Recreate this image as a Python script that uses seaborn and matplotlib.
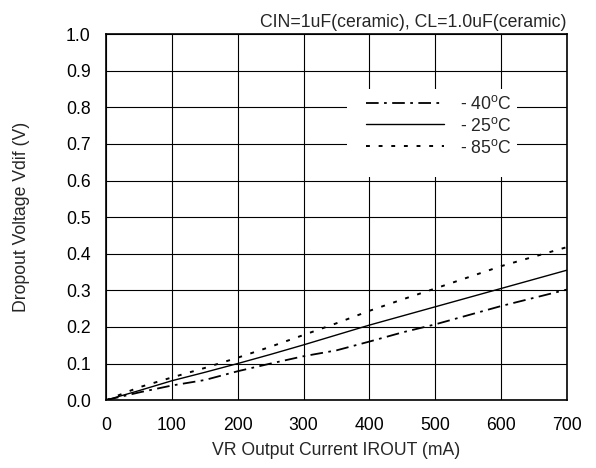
import matplotlib
matplotlib.use("Agg")
import matplotlib.pyplot as plt
import seaborn as sns
import pandas as pd
from matplotlib.patches import Rectangle

# values
current_ma = [0, 50, 100, 150, 200, 250, 300, 350, 400, 450, 500, 600, 700]
vdif_m40 = [0, 0.021, 0.040, 0.055, 0.079, 0.100, 0.120, 0.136, 0.160, 0.185, 0.207, 0.257, 0.302]
vdif_25 = [0, 0.026, 0.053, 0.076, 0.100, 0.125, 0.151, 0.178, 0.205, 0.230, 0.255, 0.305, 0.355]
vdif_85 = [0, 0.035, 0.062, 0.088, 0.116, 0.146, 0.178, 0.210, 0.244, 0.275, 0.305, 0.366, 0.418]
labels = ["- 40$^{\\rm o}$C", "- 25$^{\\rm o}$C", "- 85$^{\\rm o}$C"]
x_ticks = [0, 100, 200, 300, 400, 500, 600, 700]
y_ticks = [0.0, 0.1, 0.2, 0.3, 0.4, 0.5, 0.6, 0.7, 0.8, 0.9, 1.0]

FS = 12.7

sns.set_style("white")
plt.rcParams["font.family"] = ["Liberation Sans", "DejaVu Sans"]
plt.rcParams["mathtext.fontset"] = "custom"
plt.rcParams["mathtext.rm"] = "Liberation Sans"
plt.rcParams["font.size"] = FS

df = pd.DataFrame({"I": current_ma, "m40": vdif_m40, "t25": vdif_25, "t85": vdif_85})

fig = plt.figure(figsize=(5.96, 4.68), dpi=100)
ax = fig.add_axes([0.178, 0.145, 0.773, 0.782])

sns.lineplot(data=df, x="I", y="m40", ax=ax, color="black", lw=1.3,
             linestyle=(0, (7, 3, 1.5, 3)), label=labels[0])
sns.lineplot(data=df, x="I", y="t25", ax=ax, color="black", lw=1.0,
             label=labels[1])
sns.lineplot(data=df, x="I", y="t85", ax=ax, color="black", lw=1.4,
             linestyle=(0, (2, 4.5)), label=labels[2])

ax.set_xlim(0, 700)
ax.set_ylim(0, 1.0)
ax.set_xticks(x_ticks)
ax.set_yticks(y_ticks)
ax.set_yticklabels([f"{v:.1f}" for v in y_ticks])
ax.grid(True, color="black", lw=0.8)
ax.set_axisbelow(True)
ax.tick_params(axis="both", length=0, labelsize=FS, colors="black")
ax.tick_params(axis="x", pad=12)
ax.tick_params(axis="y", pad=11)
for sp in ax.spines.values():
    sp.set_color("black")
    sp.set_linewidth(1.2)

ax.set_xlabel("VR Output Current IROUT (mA)", fontsize=FS, labelpad=6)
ax.set_ylabel("Dropout Voltage Vdif (V)", fontsize=FS, labelpad=26)
ax.set_title("CIN=1uF(ceramic), CL=1.0uF(ceramic)", loc="right", fontsize=FS, pad=5)

# white box behind the legend hides the grid
ax.add_patch(Rectangle((0.523, 0.609), 0.369, 0.241, transform=ax.transAxes,
                       facecolor="white", edgecolor="none", zorder=1.5))
leg = ax.legend(loc="center left", bbox_to_anchor=(0.564, 0.750), frameon=False,
                borderpad=0, borderaxespad=0, handlelength=4.4, handletextpad=0.95,
                labelspacing=0.22, fontsize=FS)

fig.savefig("out.png", dpi=100)
